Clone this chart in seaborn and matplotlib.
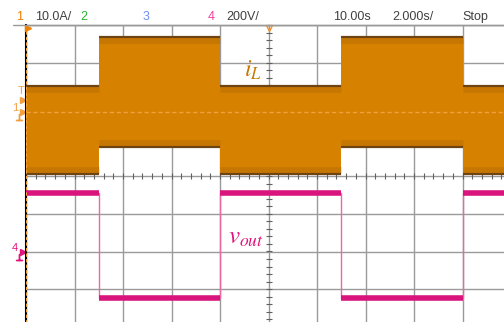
import numpy as np
import pandas as pd
import seaborn as sns
import matplotlib.pyplot as plt
from matplotlib.lines import Line2D

# scope capture: 2 s/div, ch1 10 A/div, ch4 200 V/div
t_edges = [0, 3, 8, 13, 18, 20]           # s, switching instants
i_top = [7.2, 20.1, 7.2, 20.1, 7.2]       # A, upper envelope of iL ripple
i_bot = [-16.7, -9.5, -16.7, -9.5, -16.7] # A, lower envelope
v_out = [308, -248, 308, -248, 308]       # V
ch1_offset = 1.70   # div
ch4_offset = -2.0   # div
header = ["1", "10.0A/", "2", "3", "4", "200V/", "10.00s", "2.000s/", "Stop"]

sns.set_style("white")
plt.rcParams['font.family'] = ['Liberation Sans Narrow', 'Liberation Sans', 'DejaVu Sans']
plt.rcParams['mathtext.fontset'] = 'stix'

fig = plt.figure(figsize=(5.04, 3.22), dpi=100)
W, H = 504, 322
ax = fig.add_axes([26 / W, (H - 327) / H, 485 / W, 302 / H])
ax.set_xlim(0, 20)
ax.set_ylim(-4, 4)

# graticule
ax.set_xticks(range(0, 21, 2))
ax.set_yticks(range(-4, 5))
ax.grid(True, color="#9a9a9a", lw=1)
ax.tick_params(length=0, labelbottom=False, labelleft=False)
for s in ["right", "bottom"]:
    ax.spines[s].set_visible(False)
ax.spines["left"].set_color("black")
ax.spines["left"].set_linewidth(1.5)
ax.spines["top"].set_color("#9a9a9a")
ax.spines["top"].set_linewidth(1)
ax.set_axisbelow(True)

# centre crosshair minor ticks
mx = np.arange(0, 20.01, 0.4)
ax.plot(mx, np.zeros_like(mx), ls="none", marker="|", ms=4, color="#606060", mew=0.8, zorder=1)
my = np.arange(-4, 4.01, 0.2)
ax.plot(np.full_like(my, 10), my, ls="none", marker="_", ms=4, color="#606060", mew=0.8, zorder=1)

# inductor current band
ti = np.array(t_edges, dtype=float)
top = ch1_offset + np.array(i_top + [i_top[-1]]) / 10
bot = ch1_offset + np.array(i_bot + [i_bot[-1]]) / 10
ax.fill_between(ti, bot, top, step="post", color="#D68200", lw=0, zorder=3)
ax.hlines(top[:-1] - 0.12, ti[:-1], ti[1:], color="#a86508", lw=5, alpha=0.35, zorder=3.5)
ax.hlines(bot[:-1] + 0.12, ti[:-1], ti[1:], color="#a86508", lw=5, alpha=0.35, zorder=3.5)
ax.hlines(top[:-1] - 0.03, ti[:-1], ti[1:], color="#6e4412", lw=1.6, zorder=4)
ax.hlines(bot[:-1] + 0.03, ti[:-1], ti[1:], color="#6e4412", lw=1.6, zorder=4)

# output voltage trace
vt = ch4_offset + np.array(v_out + [v_out[-1]]) / 200
df = pd.DataFrame({"t": ti, "v": vt})
sns.lineplot(data=df, x="t", y="v", drawstyle="steps-post", color="#e868a8", lw=1, ax=ax, zorder=5)
ax.hlines(vt[:-1], ti[:-1], ti[1:], color="#d9147c", lw=4, zorder=6)
ax.set_xlabel("")
ax.set_ylabel("")

# ch1 reference dashed line
ax.axhline(ch1_offset, color="#f0a040", lw=1, dashes=(3, 2), zorder=7)
ax.axvline(0.02, color="#f0a040", lw=0.8, dashes=(3, 2), zorder=7)

# trace labels
ax.text(9.36, 2.81, r"$i_L$", color="#c87800", fontsize=17, ha="center", va="center", zorder=8)
ax.text(9.07, -1.62, r"$v_{out}$", color="#e0147c", fontsize=18, ha="center", va="center", zorder=8)

# channel markers on the left
ax.text(-0.2, ch1_offset + 0.55, "T", color="#f0a040", fontsize=8, ha="center", va="center", clip_on=False)
ax.text(-0.45, ch1_offset + 0.1, "1", color="#f0a040", fontsize=8, ha="center", va="center", clip_on=False)
ax.plot([-0.12, -0.12], [ch1_offset + 0.32, ch1_offset], ls="none", marker=">", ms=4,
        color="#f0a040", clip_on=False)
ax.plot([-0.3], [ch1_offset - 0.15], ls="none", marker="$\u22a5$", ms=5, color="#f0a040", clip_on=False)
ax.text(-0.45, ch4_offset + 0.08, "4", color="#e0147c", fontsize=8, ha="center", va="center", clip_on=False)
ax.plot([-0.12], [ch4_offset], ls="none", marker=">", ms=4, color="#e0147c", clip_on=False)
ax.plot([-0.3], [ch4_offset - 0.15], ls="none", marker="$\u22a5$", ms=5, color="#e0147c", clip_on=False)
ax.plot([0.1], [3.93], ls="none", marker=">", ms=4, color="#f08000", clip_on=False, zorder=9)
ax.plot([10], [3.92], ls="none", marker="v", ms=5, mfc="none", color="#f09030", clip_on=False, zorder=9)

# header
fig.add_artist(Line2D([13 / W, 1], [1 - 25 / H] * 2, color="#9a9a9a", lw=1))
hx = [16, 35, 80, 143, 208, 226, 333, 392, 462]
hc = ["#f08000", "#404040", "#30b030", "#7090f0", "#f040a0", "#404040", "#404040", "#404040", "#404040"]
for lbl, x, c in zip(header, hx, hc):
    fig.text(x / W, 1 - 17 / H, lbl, color=c, fontsize=9, ha="left", va="center")

plt.savefig("out.png", dpi=100)
